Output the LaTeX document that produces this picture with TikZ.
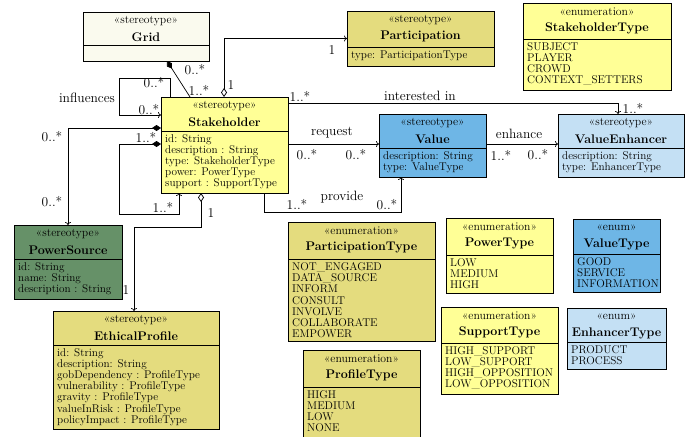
\documentclass[tikz,border=0pt]{standalone}
\usetikzlibrary{arrows.meta,calc}
\definecolor{cream}{RGB}{250,250,238}
\definecolor{khaki}{RGB}{228,220,126}
\definecolor{lyellow}{RGB}{255,255,150}
\definecolor{mblue}{RGB}{110,182,230}
\definecolor{lblue}{RGB}{196,224,244}
\definecolor{mgreen}{RGB}{102,145,104}
\tikzset{
  umlbox/.style={draw=black, line width=0.8pt, anchor=north west, inner sep=0pt, outer sep=0pt},
  stereo/.style={font=\fontsize{11.7}{12}\selectfont, inner sep=0pt},
  ctitle/.style={font=\fontsize{12.5}{14}\selectfont\bfseries, inner sep=0pt},
  attrs/.style={font=\fontsize{11.2}{11.1}\selectfont, align=left, anchor=north west, inner sep=0pt},
  lbl/.style={font=\fontsize{13.5}{14}\selectfont, inner sep=0pt},
  conn/.style={line width=0.7pt},
  tip/.style={-{To[length=3pt,width=6pt]}},
  fdia/.style={{Diamond[length=9pt,width=6pt]}-},
  odia/.style={{Diamond[open,fill=white,length=9pt,width=6pt]}-},
  fdiatip/.style={{Diamond[length=9pt,width=6pt]}-{To[length=3pt,width=6pt]}},
  odiatip/.style={{Diamond[open,fill=white,length=9pt,width=6pt]}-{To[length=3pt,width=6pt]}}
}
% name, x, y, w, h, headh, fill, stereotype, title
\newcommand\umlcls[9]{%
  \node[umlbox, fill=#7, minimum width=#4pt, minimum height=#5pt] (#1) at (#2,#3) {};
  \draw[line width=0.8pt] ([yshift=-#6pt]#1.north west) -- ([yshift=-#6pt]#1.north east);
  \node[stereo] (#1-st) at ([yshift=-9pt]#1.north) {«#8»};
  \node[ctitle] (#1-ti) at ([yshift=-25pt]#1.north) {#9};
}
% name, headh, text
\newcommand\umlattr[3]{%
  \node[attrs] (#1-at) at ([xshift=4pt,yshift=-#2pt-3.5pt]#1.north west) {#3};
}
\begin{document}
\begin{tikzpicture}[x=1pt,y=-1pt]
\useasboundingbox (0,0) rectangle (692,436);

% classes
\umlcls{grid}{83}{12}{126}{49}{33}{cream}{stereotype}{Grid}
\umlcls{part}{347}{11}{147}{55}{36}{khaki}{stereotype}{Participation}
\umlattr{part}{36}{type: ParticipationType}
\umlcls{sht}{523}{3}{148}{87}{36}{lyellow}{enumeration}{StakeholderType}
\umlattr{sht}{36}{SUBJECT\\PLAYER\\CROWD\\CONTEXT\_SETTERS}
\umlcls{stake}{161}{97}{127}{96}{34}{lyellow}{stereotype}{Stakeholder}
\umlattr{stake}{34}{id: String\\description : String\\type: StakeholderType\\power: PowerType\\support : SupportType}
\umlcls{value}{379}{114}{107}{63}{34}{mblue}{stereotype}{Value}
\umlattr{value}{34}{description: String\\type: ValueType}
\umlcls{ve}{558}{114}{126}{63}{34}{lblue}{stereotype}{ValueEnhancer}
\umlattr{ve}{34}{description: String\\type: EnhancerType}
\umlcls{ps}{14}{225}{108}{74}{34}{mgreen}{stereotype}{PowerSource}
\umlattr{ps}{34}{id: String\\name: String\\description : String}
\umlcls{eth}{53}{311}{166}{118}{34}{khaki}{stereotype}{EthicalProfile}
\umlattr{eth}{34}{id: String\\description: String\\gobDependency : ProfileType\\vulnerability : ProfileType\\gravity : ProfileType\\valueInRisk : ProfileType\\policyImpact : ProfileType}
\umlcls{ptype}{288}{222}{147}{119}{37}{khaki}{enumeration}{ParticipationType}
\umlattr{ptype}{37}{NOT\_ENGAGED\\DATA\_SOURCE\\INFORM\\CONSULT\\INVOLVE\\COLLABORATE\\EMPOWER}
\umlcls{pwt}{446}{218}{107}{75}{37}{lyellow}{enumeration}{PowerType}
\umlattr{pwt}{37}{LOW\\MEDIUM\\HIGH}
\umlcls{vt}{573}{219}{87}{73}{35}{mblue}{enum}{ValueType}
\umlattr{vt}{35}{GOOD\\SERVICE\\INFORMATION}
\umlcls{spt}{441}{307}{117}{87}{36}{lyellow}{enumeration}{SupportType}
\umlattr{spt}{36}{HIGH\_SUPPORT\\LOW\_SUPPORT\\HIGH\_OPPOSITION\\LOW\_OPPOSITION}
\umlcls{et}{567}{308}{99}{61}{34}{lblue}{enum}{EnhancerType}
\umlattr{et}{34}{PRODUCT\\PROCESS}
\umlcls{prt}{303}{350}{117}{90}{37}{khaki}{enumeration}{ProfileType}
\umlattr{prt}{37}{HIGH\\MEDIUM\\LOW\\NONE}

% connectors
\draw[conn,fdia] ([xshift=84pt]grid.south west) -- ([xshift=29pt]stake.north west);
\draw[conn,odiatip] ([xshift=63pt]stake.north west) |- (part.west);
\draw[conn,tip] ([xshift=9pt]stake.north west) |- (119,78) |- ([yshift=-18pt]stake.north west);
\draw[conn,fdiatip] ([yshift=-31pt]stake.north west) -| (ps.north);
\draw[conn,fdiatip] ([yshift=-47pt]stake.north west) -| (119,214) -| ([xshift=18pt]stake.south west);
\draw[conn,odiatip] ([xshift=40pt]stake.south west) -- ++(0,34) -| ([xshift=81pt]eth.north west);
\draw[conn,tip] ([yshift=-6pt]stake.north east) -| ([xshift=60pt]ve.north west);
\draw[conn,tip] ([yshift=-47pt]stake.north east) -- ([yshift=-30pt]value.north west);
\draw[conn,tip] ([yshift=-30pt]value.north east) -- ([yshift=-30pt]ve.north west);
\draw[conn,tip] ([xshift=103pt]stake.south west) -- ++(0,19) -| ([xshift=22pt]value.south west);

% labels
\node[lbl] (l1) at (195,70) {0..*};
\node[lbl] (l2) at (199,90) {1..*};
\node[lbl] (l3) at (231,85) {1};
\node[lbl] (l4) at (332,50) {1};
\node[lbl] (l5) at (154,83) {0..*};
\node[lbl] (l6) at (149,110) {0..*};
\node[lbl] (l7) at (87,98) {influences};
\node[lbl] (l8) at (52,137) {0..*};
\node[lbl] (l9) at (52,202) {0..*};
\node[lbl] (l10) at (146,137) {1..*};
\node[lbl] (l11) at (163,207) {1..*};
\node[lbl] (l12) at (211,213) {1};
\node[lbl] (l13) at (126,290) {1};
\node[lbl] (l14) at (300,96) {1..*};
\node[lbl] (l15) at (420,96) {interested in};
\node[lbl] (l16) at (633,108) {1..*};
\node[lbl] (l17) at (332,133) {request};
\node[lbl] (l18) at (307,155) {0..*};
\node[lbl] (l19) at (356,155) {0..*};
\node[lbl] (l20) at (519,134) {enhance};
\node[lbl] (l21) at (501,155) {1..*};
\node[lbl] (l22) at (538,155) {0..*};
\node[lbl] (l23) at (297,204) {1..*};
\node[lbl] (l24) at (342,197) {provide};
\node[lbl] (l25) at (387,205) {0..*};
\end{tikzpicture}
\end{document}
